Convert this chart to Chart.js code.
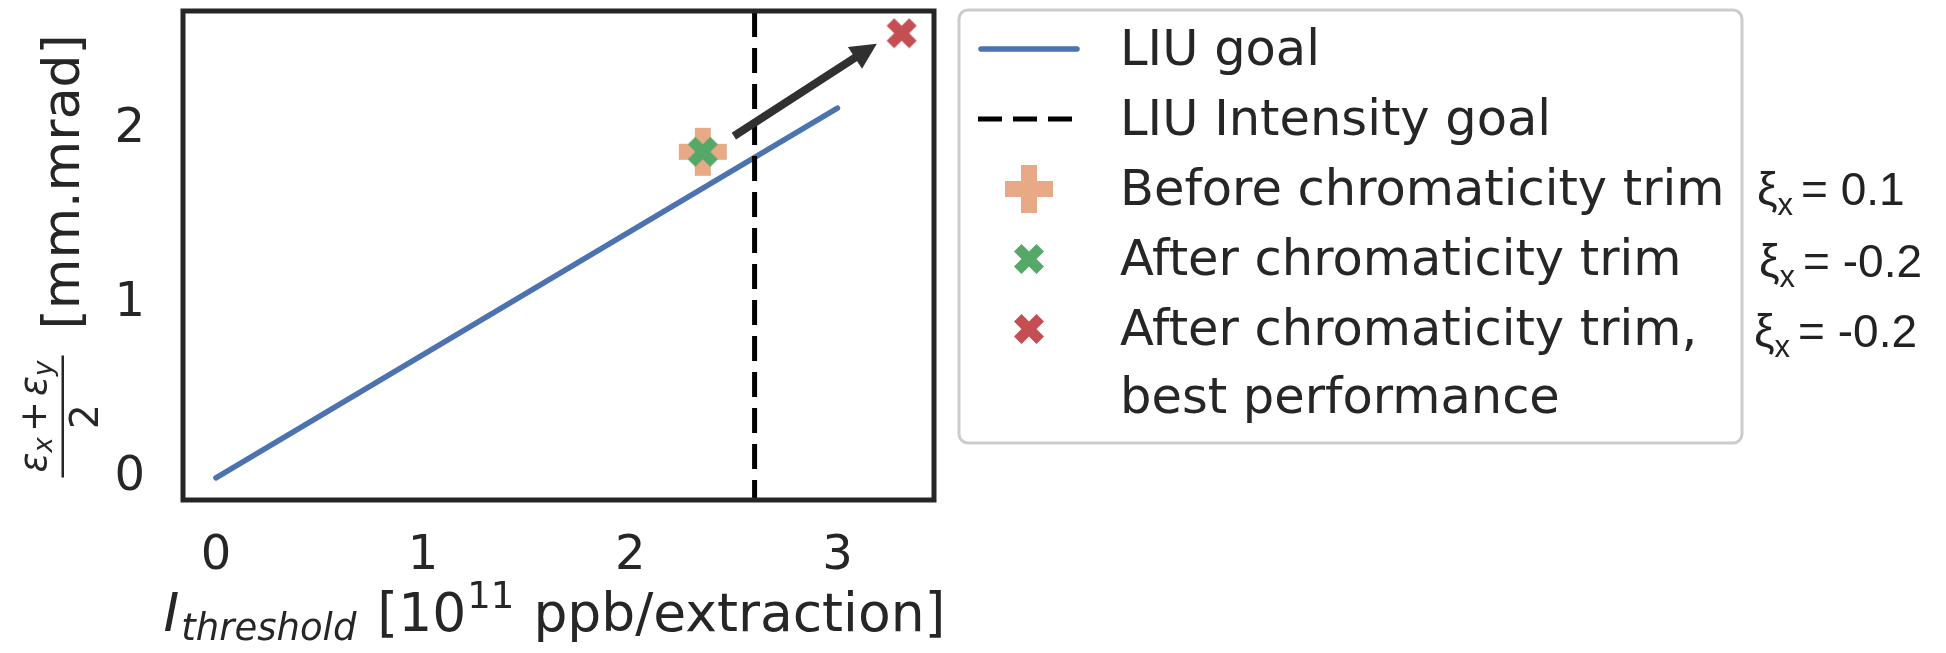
<!DOCTYPE html>
<html>
<head>
<meta charset="utf-8">
<script src="https://cdn.jsdelivr.net/npm/chart.js@4.4.1/dist/chart.umd.min.js"></script>
<style>
  html, body { margin: 0; padding: 0; background: #ffffff; }
  #wrap { position: relative; width: 1946px; height: 653px; }
</style>
</head>
<body>
<div id="wrap"><canvas id="c" width="1946" height="653"></canvas></div>
<script>
// Average emittance versus instability intensity threshold
const goalX = [0, 3];                 // 1e11 ppb/extraction
const goalY = [0, 2.12];              // mm.mrad
const intensityGoal = 2.6;            // LIU intensity goal
const beforeTrim = [2.35, 1.87];      // xi_x = 0.1
const afterTrim = [2.35, 1.87];       // xi_x = -0.2
const bestPerf = [3.31, 2.55];        // xi_x = -0.2, best performance
const arrowFrom = [2.50, 1.96];
const arrowTo = [3.19, 2.49];
const xTicks = [0, 1, 2, 3];
const yTicks = [0, 1, 2];
const xRange = [-0.159, 3.466];
const yRange = [-0.1275, 2.6775];
const legendLabels = [
  ['LIU goal'],
  ['LIU Intensity goal'],
  ['Before chromaticity trim'],
  ['After chromaticity trim'],
  ['After chromaticity trim,', 'best performance']
];
const xiValues = ['0.1', '-0.2', '-0.2'];

const INK = '#262626';
const BLUE = '#4c72b0';
const ORANGE = 'rgba(221,132,82,0.7)';
const GREEN = '#55a868';
const RED = '#c44e52';
const FONT = '"DejaVu Sans"';

// filled marker shapes (plus and x), built as small canvases
function markerCanvas(size, color, verts) {
  const pad = 2;
  const c = document.createElement('canvas');
  c.width = c.height = Math.ceil(size + 2 * pad);
  const g = c.getContext('2d');
  const m = c.width / 2;
  g.fillStyle = color;
  g.beginPath();
  verts.forEach((v, i) => {
    const px = m + v[0] * size, py = m + v[1] * size;
    if (i === 0) g.moveTo(px, py); else g.lineTo(px, py);
  });
  g.closePath();
  g.fill();
  return c;
}
const plusVerts = [[-1,-3],[1,-3],[1,-1],[3,-1],[3,1],[1,1],[1,3],[-1,3],[-1,1],[-3,1],[-3,-1],[-1,-1]].map(p => [p[0]/6, p[1]/6]);
const xVerts = [[-1,-2],[0,-1],[1,-2],[2,-1],[1,0],[2,1],[1,2],[0,1],[-1,2],[-2,1],[-1,0],[-2,-1]].map(p => [p[0]/4, p[1]/4]);
const plusOrange = markerCanvas(48, ORANGE, plusVerts);
const xGreen = markerCanvas(30, GREEN, xVerts);
const xRed = markerCanvas(30, RED, xVerts);

const datasets = [
  {
    label: legendLabels[0].join(' '),
    data: goalX.map((x, i) => ({ x, y: goalY[i] })),
    showLine: true, borderColor: BLUE, borderWidth: 5.5, borderCapStyle: 'round',
    pointRadius: 0, order: 5
  },
  {
    label: legendLabels[1].join(' '),
    data: [{ x: intensityGoal, y: yRange[0] }, { x: intensityGoal, y: yRange[1] }],
    showLine: true, borderColor: '#000000', borderWidth: 5, borderDash: [25, 11], borderDashOffset: 5,
    borderCapStyle: 'butt', pointRadius: 0, order: 4
  },
  {
    label: legendLabels[2].join(' '),
    data: [{ x: beforeTrim[0], y: beforeTrim[1] }],
    pointStyle: plusOrange, pointRadius: 24, order: 3
  },
  {
    label: legendLabels[3].join(' '),
    data: [{ x: afterTrim[0], y: afterTrim[1] }],
    pointStyle: xGreen, pointRadius: 15, order: 2
  },
  {
    label: legendLabels[4].join(' '),
    data: [{ x: bestPerf[0], y: bestPerf[1] }],
    pointStyle: xRed, pointRadius: 15, order: 1
  }
];
const legendHandles = [
  { type: 'line', color: BLUE, width: 5.5, dash: [] },
  { type: 'line', color: '#000000', width: 5, dash: [24, 11] },
  { type: 'marker', img: plusOrange },
  { type: 'marker', img: xGreen },
  { type: 'marker', img: xRed }
];

// draws a run of text pieces [font, text, baselineShift, extraGap] starting at x
function drawRuns(ctx, runs, x, y) {
  let cx = x;
  runs.forEach(r => {
    ctx.font = r[0];
    ctx.fillText(r[1], cx, y + r[2]);
    cx += ctx.measureText(r[1]).width + (r[3] || 0);
  });
  return cx - x;
}
function runsWidth(ctx, runs) {
  let w = 0;
  runs.forEach(r => { ctx.font = r[0]; w += ctx.measureText(r[1]).width + (r[3] || 0); });
  return w;
}

const decorations = {
  id: 'decorations',
  afterDatasetsDraw(chart) {
    const ctx = chart.ctx;
    const a = chart.chartArea;
    const xs = chart.scales.x, ys = chart.scales.y;

    // arrow between the trim points
    const x0 = xs.getPixelForValue(arrowFrom[0]), y0 = ys.getPixelForValue(arrowFrom[1]);
    const x1 = xs.getPixelForValue(arrowTo[0]), y1 = ys.getPixelForValue(arrowTo[1]);
    const len = Math.hypot(x1 - x0, y1 - y0);
    const ux = (x1 - x0) / len, uy = (y1 - y0) / len;
    const headL = 26, headW = 13, shaft = 8;
    const bx = x1 - ux * headL, by = y1 - uy * headL;
    ctx.save();
    ctx.fillStyle = '#303030';
    ctx.strokeStyle = '#303030';
    ctx.lineWidth = shaft;
    ctx.lineCap = 'butt';
    ctx.beginPath();
    ctx.moveTo(x0, y0);
    ctx.lineTo(bx + ux * 2, by + uy * 2);
    ctx.stroke();
    ctx.beginPath();
    ctx.moveTo(x1, y1);
    ctx.lineTo(bx - uy * headW, by + ux * headW);
    ctx.lineTo(bx + uy * headW, by - ux * headW);
    ctx.closePath();
    ctx.fill();
    ctx.restore();

    // axes frame
    ctx.save();
    ctx.strokeStyle = INK;
    ctx.lineWidth = 5;
    ctx.strokeRect(a.left, a.top, a.right - a.left, a.bottom - a.top);
    ctx.restore();
  },
  afterDraw(chart) {
    const ctx = chart.ctx;
    const a = chart.chartArea;
    ctx.save();
    ctx.fillStyle = INK;
    ctx.textBaseline = 'alphabetic';
    ctx.textAlign = 'left';

    // x axis title
    const xRuns = [
      ['italic 53.5px ' + FONT, 'I', 0, 2],
      ['italic 37px ' + FONT, 'threshold', 9, 4],
      ['53.5px ' + FONT, ' [10', 0, 1],
      ['37px ' + FONT, '11', -23, 2],
      ['53.5px ' + FONT, ' ppb/extraction]', 0]
    ];
    const xw = runsWidth(ctx, xRuns);
    drawRuns(ctx, xRuns, (a.left + a.right) / 2 - xw / 2 - 4, 631);

    // y axis title, rotated
    ctx.save();
    ctx.translate(79, (a.top + a.bottom) / 2);
    ctx.rotate(-Math.PI / 2);
    ctx.font = '52px ' + FONT;
    ctx.fillText('[mm.mrad]', -74, 0);
    const barStart = -222, barEnd = -100;
    ctx.fillRect(barStart, -17.5, barEnd - barStart, 2.5);
    const num = [
      ['italic 37px ' + FONT, '\u03b5', 0],
      ['italic 26px ' + FONT, 'x', 6, 5],
      ['37px ' + FONT, '+', 0, 5],
      ['italic 37px ' + FONT, '\u03b5', 0],
      ['italic 26px ' + FONT, 'y', 6]
    ];
    const nw = runsWidth(ctx, num);
    drawRuns(ctx, num, (barStart + barEnd) / 2 - nw / 2, -33);
    ctx.font = '39px ' + FONT;
    const dw = ctx.measureText('2').width;
    ctx.fillText('2', (barStart + barEnd) / 2 - dw / 2, 19);
    ctx.restore();

    // legend box
    const L = { left: 959, top: 10, right: 1742, bottom: 443 };
    ctx.save();
    ctx.fillStyle = '#ffffff';
    ctx.strokeStyle = '#cccccc';
    ctx.lineWidth = 3;
    ctx.beginPath();
    ctx.roundRect(L.left, L.top, L.right - L.left, L.bottom - L.top, 9);
    ctx.fill();
    ctx.stroke();
    ctx.restore();

    const rowBase = [65, 135, 205, 275, 345];
    const lineStep = 68;
    const handleX0 = 978, handleX1 = 1080, handleC = 1029, textX = 1120;
    ctx.fillStyle = INK;
    legendLabels.forEach((lines, i) => {
      const h = legendHandles[i];
      const hy = rowBase[i] - 16;
      if (h.type === 'line') {
        ctx.save();
        ctx.strokeStyle = h.color;
        ctx.lineWidth = h.width;
        ctx.setLineDash(h.dash);
        ctx.lineCap = h.dash.length ? 'butt' : 'round';
        ctx.beginPath();
        ctx.moveTo(handleX0 + (h.dash.length ? 0 : 3), hy);
        ctx.lineTo(handleX1 - (h.dash.length ? 0 : 3), hy);
        ctx.stroke();
        ctx.restore();
      } else {
        ctx.drawImage(h.img, handleC - h.img.width / 2, hy - h.img.height / 2);
      }
      ctx.font = '49.5px ' + FONT;
      lines.forEach((t, k) => ctx.fillText(t, textX, rowBase[i] + k * lineStep));
    });

    // chromaticity values next to the marker entries
    ctx.fillStyle = '#222222';
    xiValues.forEach((v, i) => {
      const base = rowBase[i + 2] + (i === 0 ? 0 : 2);
      const runs = [
        ['46px "Liberation Sans"', '\u03be', 0],
        ['31px "Liberation Sans"', 'x', 10, 8],
        ['46px "Liberation Sans"', '= ' + v, 0]
      ];
      drawRuns(ctx, runs, i === 2 ? 1754 : (i === 1 ? 1759 : 1757), base);
    });
    ctx.restore();
  }
};

new Chart(document.getElementById('c'), {
  type: 'scatter',
  data: { datasets },
  options: {
    responsive: false,
    animation: false,
    devicePixelRatio: 1,
    layout: { autoPadding: false, padding: { left: 0, top: 11, right: 1012, bottom: 0 } },
    plugins: { legend: { display: false }, tooltip: { enabled: false } },
    events: [],
    scales: {
      x: {
        type: 'linear', min: xRange[0], max: xRange[1],
        afterBuildTicks: s => { s.ticks = xTicks.map(v => ({ value: v })); },
        afterFit: s => { s.height = 153; s.paddingLeft = 0; s.paddingRight = 0; },
        grid: { display: false, drawTicks: false },
        border: { display: false },
        ticks: { color: INK, font: { family: 'DejaVu Sans', size: 48 }, padding: 28, maxRotation: 0 }
      },
      y: {
        type: 'linear', min: yRange[0], max: yRange[1],
        afterBuildTicks: s => { s.ticks = yTicks.map(v => ({ value: v })); },
        afterFit: s => { s.width = 183; s.paddingTop = 0; s.paddingBottom = 0; },
        grid: { display: false, drawTicks: false },
        border: { display: false },
        ticks: { color: INK, font: { family: 'DejaVu Sans', size: 48 }, padding: 38 }
      }
    }
  },
  plugins: [decorations]
});
</script>
</body>
</html>
